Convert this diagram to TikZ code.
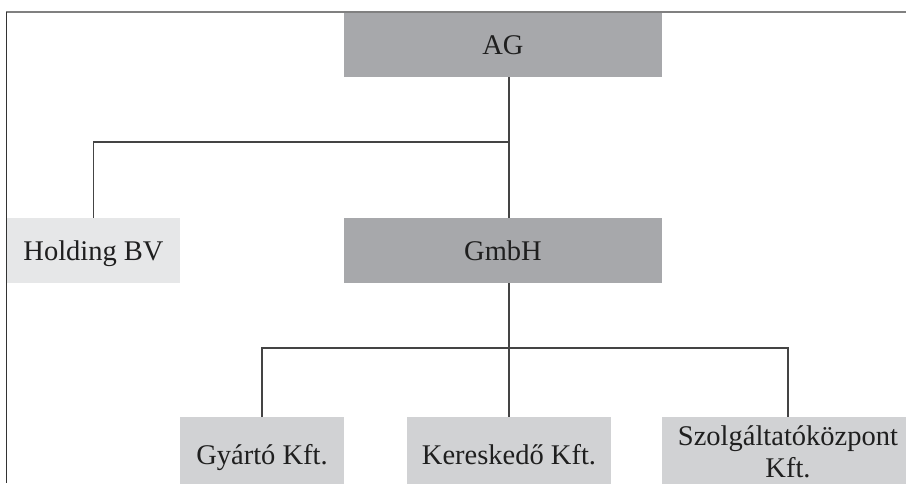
\documentclass[tikz,border=0pt]{standalone}
\usepackage{fontspec}
\setmainfont{Liberation Serif}
\definecolor{boxdark}{HTML}{A7A8AB}
\definecolor{boxmid}{HTML}{D1D2D4}
\definecolor{boxlight}{HTML}{E6E7E8}
\definecolor{linegray}{HTML}{444444}
\definecolor{framegray}{HTML}{808080}
\definecolor{frameleft}{HTML}{333333}
\begin{document}
\begin{tikzpicture}[x=1pt,y=-1pt,
  box/.style={rectangle, inner sep=0pt, outer sep=0pt, draw=none,
    font=\fontsize{28.5}{32.5}\selectfont, text=black!88},
  oneline/.style={text height=19pt, text depth=0pt},
  darkbox/.style={box, oneline, fill=boxdark},
  lightbox/.style={box, oneline, fill=boxlight},
  midbox/.style={box, fill=boxmid},
  conn/.style={draw=linegray, line width=1.2pt}]
\useasboundingbox (0,0) rectangle (906,483);
% boxes
\node[darkbox, minimum width=318pt, minimum height=64pt] (ag) at (503,45) {AG};
\node[darkbox, minimum width=318pt, minimum height=65pt] (gmbh) at (503,250.5) {GmbH};
\node[lightbox, minimum width=173pt, minimum height=65pt] (hb) at (93.5,250.5) {Holding BV};
\node[midbox, oneline, minimum width=164pt, minimum height=75pt] (gy) at (262,454.5) {Gyártó Kft.};
\node[midbox, oneline, minimum width=204pt, minimum height=75pt] (ke) at (509,454.5) {Kereskedő Kft.};
\node[midbox, align=center, minimum width=252pt, minimum height=70pt] (sz) at (788,452) {Szolgáltatóközpont\\Kft.};
% junctions
\coordinate (j1) at (509,142);
\coordinate (j2) at (509,348);
% connectors
\draw[conn] ([xshift=6pt]ag.south) -- ([xshift=6pt]gmbh.north);
\draw[conn] (j1) -| (hb.north);
\draw[conn] ([xshift=6pt]gmbh.south) -- (ke.north);
\draw[conn] (gy.north) -- (gy.north |- j2) -- (j2 -| sz.north) -- (sz.north);
% frame
\draw[draw=framegray, line width=1.3pt] (6,12) -- (906,12);
\draw[draw=frameleft, line width=1.3pt] (6.5,12) -- (6.5,483);
\end{tikzpicture}
\end{document}
